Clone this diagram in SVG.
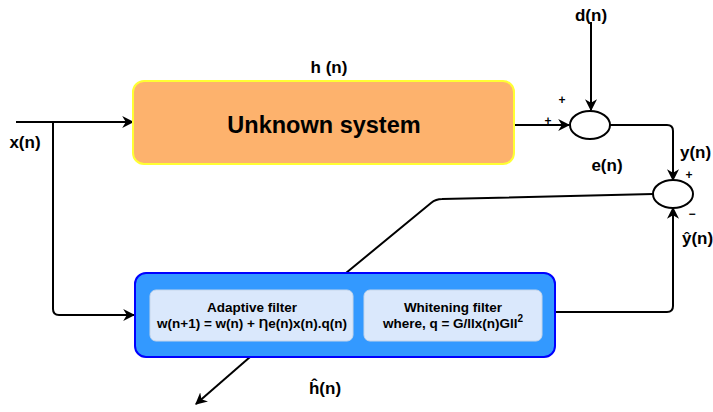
<svg xmlns="http://www.w3.org/2000/svg" width="713" height="412" viewBox="0 0 713 412">
<style>
text{font-family:"Liberation Sans",Arial,"DejaVu Sans",sans-serif;font-weight:bold;fill:#000}
.lbl{font-size:17px}
.sm{font-size:13.5px}
.pm{font-size:12px}
.conn{fill:none;stroke:#000;stroke-width:2;stroke-linejoin:round}
.sum{fill:#fff;stroke:#000;stroke-width:2}
.inner{fill:#dae8fc;stroke:#c5d5ea;stroke-width:1}
</style>
<defs>
<marker id="arrL" viewBox="0 0 10 10" refX="9" refY="5" markerWidth="12" markerHeight="12" markerUnits="userSpaceOnUse" orient="auto">
<path d="M0,0 L10,5 L0,10 L3,5 Z" fill="#000"/>
</marker>
</defs>

<g id="connectors">
<path class="conn" d="M16,122 L133,122" marker-end="url(#arrL)"/>
<path class="conn" d="M53,122 L53,309 Q53,315 59,315 L134,315" marker-end="url(#arrL)"/>
<path class="conn" d="M514,125 L569,125" marker-end="url(#arrL)"/>
<path class="conn" d="M591,22 L591,110" marker-end="url(#arrL)"/>
<path class="conn" d="M610,125 L667,125 Q673,125 673,131 L673,180" marker-end="url(#arrL)"/>
<path class="conn" d="M555,312 L667,312 Q673,312 673,306 L673,208" marker-end="url(#arrL)"/>
<path class="conn" d="M653,194 L442,199 Q436,199 431,203 L346,273"/>
<path class="conn" d="M250,357 L196,404" marker-end="url(#arrL)"/>
</g>

<g id="unknown-system">
<rect x="133" y="81" width="381" height="83" rx="11" fill="#fdb26d" stroke="#ffff33" stroke-width="2"/>
<text x="324" y="133" font-size="23.5" text-anchor="middle">Unknown system</text>
</g>

<g id="adaptive-block">
<rect x="135" y="273" width="420" height="84" rx="11" fill="#3399ff" stroke="#0000ff" stroke-width="2"/>
<g id="adaptive-filter">
<rect class="inner" x="150" y="290" width="203" height="51" rx="6"/>
<text class="sm" x="252" y="312" text-anchor="middle">Adaptive filter</text>
<text class="sm" x="252" y="328" text-anchor="middle">w(n+1) = w(n) + Ƞe(n)x(n).q(n)</text>
</g>
<g id="whitening-filter">
<rect class="inner" x="364" y="290" width="178" height="51" rx="6"/>
<text class="sm" x="453" y="312" text-anchor="middle">Whitening filter</text>
<text class="sm" x="453" y="328" text-anchor="middle">where, q = G/llx(n)Gll<tspan font-size="10" dy="-6">2</tspan></text>
</g>
</g>

<g id="sum1">
<ellipse class="sum" cx="590" cy="125" rx="20" ry="14"/>
</g>
<g id="sum2">
<ellipse class="sum" cx="673" cy="194" rx="20" ry="14"/>
</g>

<g id="labels">
<text class="lbl" x="25" y="148" text-anchor="middle">x(n)</text>
<text class="lbl" x="329" y="73" text-anchor="middle">h (n)</text>
<text class="lbl" x="591" y="21" text-anchor="middle">d(n)</text>
<text class="pm" x="562" y="104" text-anchor="middle">+</text>
<text class="pm" x="548" y="125" text-anchor="middle">+</text>
<text class="lbl" x="680" y="158">y(n)</text>
<text class="lbl" x="607" y="171" text-anchor="middle">e(n)</text>
<text class="pm" x="689" y="179" text-anchor="middle">+</text>
<text class="pm" x="692" y="218" text-anchor="middle">−</text>
<text class="lbl" x="682" y="244">ŷ(n)</text>
<text class="lbl" x="325" y="394" text-anchor="middle">ĥ(n)</text>
</g>
</svg>
